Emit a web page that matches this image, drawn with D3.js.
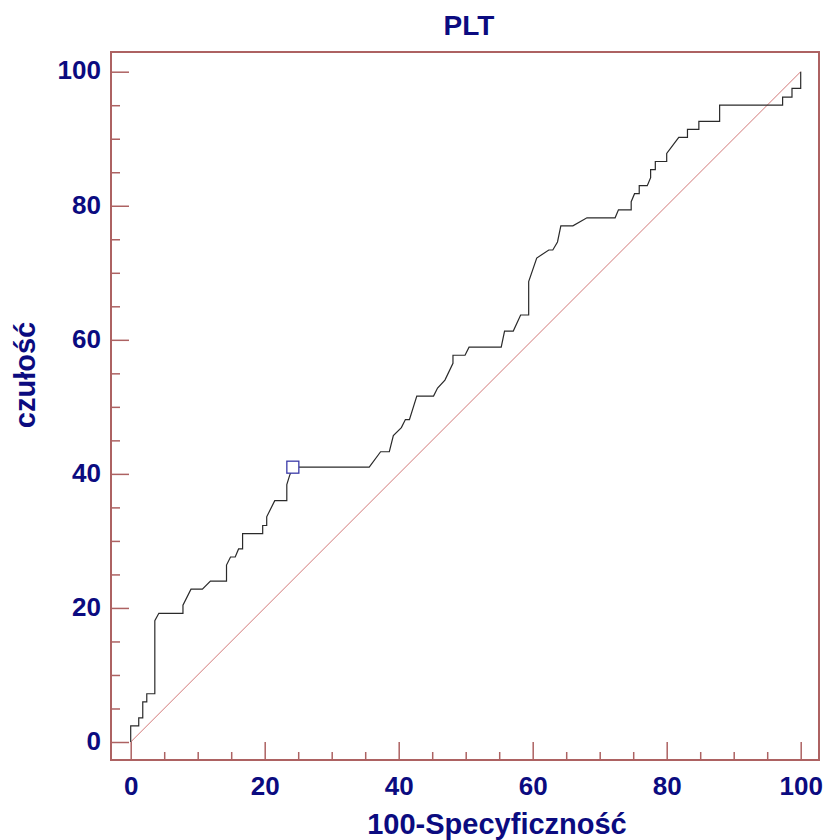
<!DOCTYPE html>
<html><head><meta charset="utf-8">
<script src="https://cdn.jsdelivr.net/npm/d3@7"></script>
<style>body{margin:0;background:#fff}svg{display:block}text{font-family:"Liberation Sans",Arial,sans-serif;font-weight:bold;fill:#0b0b80}</style>
</head><body><svg id="c" width="830" height="840"></svg>
<script>
const title = "PLT";
const xLabel = "100-Specyficzność";
const yLabel = "czułość";
const majorTicks = [0, 20, 40, 60, 80, 100];
const minorTicks = [5, 10, 15, 25, 30, 35, 45, 50, 55, 65, 70, 75, 85, 90, 95];
// ROC curve: 100-specificity (x) and sensitivity (y)
const rocX = [0,0,1.2,1.2,1.8,1.8,2.4,2.4,3.6,3.6,4.2,7.8,7.8,9.0,10.7,11.9,14.3,14.3,14.9,15.6,16.1,16.7,16.7,19.7,19.7,20.3,20.3,21.5,23.3,23.3,23.7,24.2,35.6,37.3,38.6,39.2,40.4,41.0,41.6,42.7,45.2,45.8,46.9,48.1,48.1,49.9,50.5,55.3,55.8,57.1,58.2,59.4,59.4,60.6,62.4,63.0,63.7,64.2,66.0,68.1,72.3,72.8,74.7,74.7,75.2,75.9,75.9,77.1,77.6,77.6,78.3,78.3,80.0,80.0,81.8,83.1,83.1,84.8,84.8,87.9,87.9,97.3,97.3,98.7,98.7,100,100];
const rocY = [0,2.4,2.4,3.6,3.6,6.0,6.0,7.2,7.2,18.1,19.2,19.2,20.4,22.8,22.8,24.0,24.0,26.4,27.6,27.6,28.8,28.8,31.1,31.1,32.3,32.3,33.6,36.0,36.0,38.4,39.7,41.0,41.0,43.3,43.3,45.7,46.9,48.1,48.1,51.6,51.6,52.8,54.0,56.5,57.7,57.7,58.9,58.9,61.3,61.3,63.7,63.7,68.7,72.2,73.4,73.4,74.6,77.0,77.0,78.2,78.2,79.4,79.4,80.6,81.8,81.8,83.0,83.0,84.2,85.4,85.4,86.6,86.6,87.8,90.2,90.2,91.4,91.4,92.6,92.6,95.0,95.0,96.2,96.2,97.5,97.5,100];
const cutoff = {x: 24.2, y: 41.0};

const svg = d3.select("#c");
const frame = {l: 111, r: 819, t: 52, b: 760};
const x = d3.scaleLinear().domain([0, 100]).range([130.7, 800.7]);
const y = d3.scaleLinear().domain([0, 100]).range([742, 71.7]);
const frameCol = "#ad6262";

// frame
svg.append("rect").attr("x", frame.l).attr("y", frame.t)
  .attr("width", frame.r - frame.l).attr("height", frame.b - frame.t)
  .attr("fill", "none").attr("stroke", frameCol).attr("stroke-width", 2);

// x axis
const gx = svg.append("g").attr("transform", `translate(0,${frame.b})`)
  .call(d3.axisBottom(x).tickValues(majorTicks).tickSize(-18).tickPadding(17).tickFormat(d3.format("d")));
gx.select(".domain").remove();
gx.selectAll("line").attr("stroke", frameCol).attr("stroke-width", 1.5);
gx.selectAll("text").attr("font-size", 26).attr("fill", "#0b0b80").attr("font-family", "Liberation Sans, Arial, sans-serif").attr("font-weight", "bold");
const gxm = svg.append("g").attr("transform", `translate(0,${frame.b})`)
  .call(d3.axisBottom(x).tickValues(minorTicks).tickSize(-8).tickFormat(""));
gxm.select(".domain").remove();
gxm.selectAll("line").attr("stroke", frameCol).attr("stroke-width", 1.5);

// y axis
const gy = svg.append("g").attr("transform", `translate(${frame.l},0)`)
  .call(d3.axisLeft(y).tickValues(majorTicks).tickSize(-18).tickPadding(10).tickFormat(d3.format("d")));
gy.select(".domain").remove();
gy.selectAll("line").attr("stroke", frameCol).attr("stroke-width", 1.5);
gy.selectAll("text").attr("font-size", 26).attr("fill", "#0b0b80").attr("font-family", "Liberation Sans, Arial, sans-serif").attr("font-weight", "bold").attr("dy", "0.28em");
const gym = svg.append("g").attr("transform", `translate(${frame.l},0)`)
  .call(d3.axisLeft(y).tickValues(minorTicks).tickSize(-9).tickFormat(""));
gym.select(".domain").remove();
gym.selectAll("line").attr("stroke", frameCol).attr("stroke-width", 1.5);

// diagonal
svg.append("line").attr("x1", x(0)).attr("y1", y(0)).attr("x2", x(100)).attr("y2", y(100))
  .attr("stroke", "#d27878").attr("stroke-width", 1);

// ROC curve
const pts = rocX.map((v, i) => [v, rocY[i]]);
svg.append("path").datum(pts)
  .attr("d", d3.line().x(d => x(d[0])).y(d => y(d[1])))
  .attr("fill", "none").attr("stroke", "#2a2a2a").attr("stroke-width", 1.2);

// cutoff marker
svg.append("rect").attr("x", x(cutoff.x) - 6).attr("y", y(cutoff.y) - 6)
  .attr("width", 12).attr("height", 12)
  .attr("fill", "#fff").attr("stroke", "#3a3aa8").attr("stroke-width", 1.3);

// titles
svg.append("text").attr("x", 469).attr("y", 35).attr("text-anchor", "middle")
  .attr("font-size", 28).text(title);
svg.append("text").attr("x", 497).attr("y", 834).attr("text-anchor", "middle")
  .attr("font-size", 29).text(xLabel);
svg.append("text").attr("transform", "translate(35,375) rotate(-90)").attr("text-anchor", "middle")
  .attr("font-size", 29).text(yLabel);
</script></body></html>
